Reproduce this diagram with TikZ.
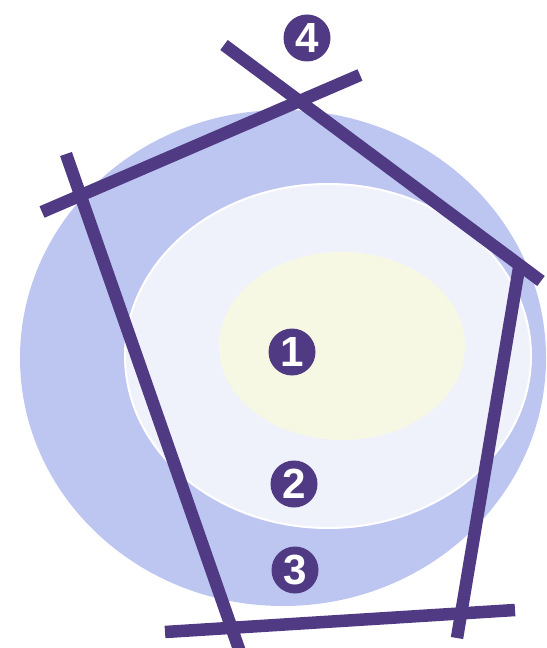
\documentclass[tikz,border=0pt]{standalone}
\usepackage{fontspec}
\setsansfont{Liberation Sans}
\usepackage{xcolor}
\usepackage{tikz}
\definecolor{ringout}{RGB}{188,198,240}
\definecolor{ringmid}{RGB}{240,242,251}
\definecolor{ringin}{RGB}{247,248,228}
\definecolor{barpurple}{RGB}{80,58,132}

\begin{document}
\begin{tikzpicture}[x=0.2mm,y=-0.2mm,
  bar/.style={barpurple,line width=2.5mm},
  badge/.style={circle,fill=barpurple,text=white,inner sep=0pt,minimum size=9.4mm,
    font=\sffamily\bfseries\fontsize{24}{24}\selectfont}]
  \useasboundingbox (0,0) rectangle (546,648);
  \clip (0,0) rectangle (546,648);
  %% rings
  \fill[ringout] (283,358) ellipse [x radius=263, y radius=248];
  \fill[ringmid,draw=white,line width=0.4mm] (328,356) ellipse [x radius=203, y radius=172];
  \fill[ringin] (342,346) ellipse [x radius=123, y radius=94];
  %% bar ends
  \coordinate (a1) at (42,212);  \coordinate (a2) at (360,75);
  \coordinate (b1) at (66,154);  \coordinate (b2) at (240,652);
  \coordinate (c1) at (224,45);  \coordinate (c2) at (541,281);
  \coordinate (d1) at (520,262); \coordinate (d2) at (457,638);
  \coordinate (e1) at (165,632); \coordinate (e2) at (515,610);
  % bars
  \draw[bar] (a1)--(a2);
  \draw[bar] (b1)--(b2);
  \draw[bar] (c1)--(c2);
  \draw[bar] (d1)--(d2);
  \draw[bar] (e1)--(e2);
  %% numbers
  \node[badge] (n1) at (292,352) {1};
  \node[badge] (n2) at (294,484) {2};
  \node[badge] (n3) at (295,570) {3};
  \node[badge] (n4) at (307,38)  {4};
\end{tikzpicture}
\end{document}
